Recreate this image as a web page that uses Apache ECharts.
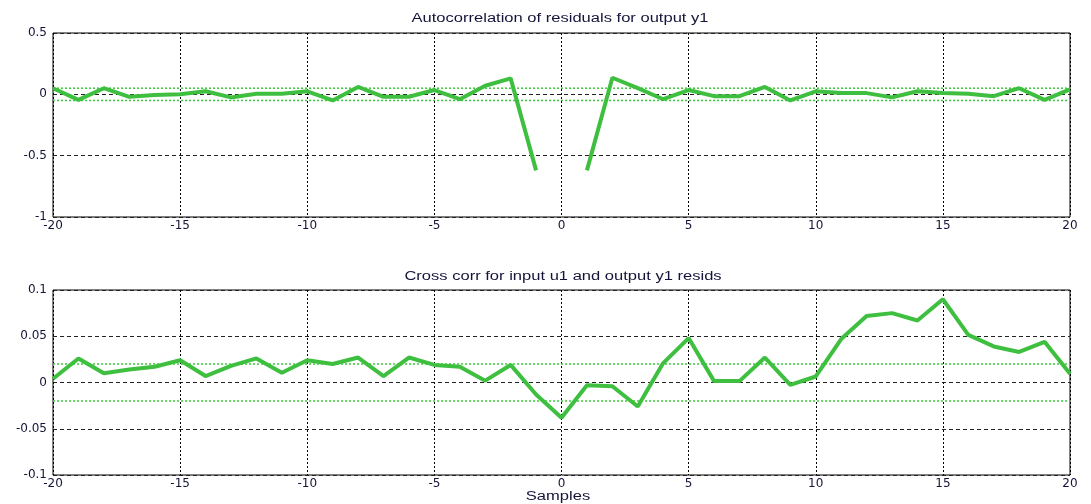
<!DOCTYPE html>
<html><head><meta charset="utf-8">
<script src="https://cdn.jsdelivr.net/npm/echarts@6/dist/echarts.min.js"></script>
<style>html,body{margin:0;padding:0;background:#fff}#c{width:1091px;height:504px}</style>
</head><body><div id="c"></div>
<script>
const lags = [];
for (let k = -20; k <= 20; k++) lags.push(k);
const autoCorr = [0.05,-0.045,0.05,-0.02,-0.005,0.0,0.025,-0.025,0.005,0.005,0.025,-0.05,0.06,-0.02,-0.02,0.035,-0.04,0.07,0.13,-0.62,null,-0.62,0.135,0.05,-0.04,0.035,-0.015,-0.015,0.06,-0.05,0.025,0.01,0.01,-0.025,0.025,0.01,0.005,-0.015,0.05,-0.045,0.04];
const crossCorr = [0.004,0.026,0.01,0.014,0.017,0.024,0.007,0.018,0.026,0.0105,0.024,0.02,0.027,0.007,0.027,0.019,0.017,0.002,0.019,-0.013,-0.038,-0.003,-0.004,-0.026,0.021,0.048,0.0015,0.0015,0.027,-0.0025,0.0065,0.047,0.072,0.075,0.067,0.09,0.0515,0.039,0.033,0.044,0.0094];
const autoConf = [0.05, -0.05];
const crossConf = [0.02, -0.02];
const xTicks = [-20,-15,-10,-5,0,5,10,15,20];
const autoTicks = [-1,-0.5,0,0.5];
const crossTicks = [-0.1,-0.05,0,0.05,0.1];
const titles = ['Autocorrelation of residuals for output y1','Cross corr for input u1 and output y1 resids'];
const xName = 'Samples';

const font = '"Liberation Sans", Arial, sans-serif';
const tickFont = '"DejaVu Sans", sans-serif';
const green = '#3fbf3f';
const confGreen = '#3acb3a';
const textColor = '#14143a';

// horizontal stretch for titles to mimic the spaced-out reference text
const mctx = document.createElement('canvas').getContext('2d');
mctx.font = '12.5px "Liberation Sans"';
const titleScale = 297 / mctx.measureText(titles[0]).width;

function pair(a){ return lags.map((k,i)=>[k,a[i]]); }
function confLine(c){ return [[lags[0],c],[lags[lags.length-1],c]]; }

const xAxisBase = (gi) => ({
  type:'value', gridIndex:gi, min:xTicks[0], max:xTicks[xTicks.length-1], interval:xTicks[1]-xTicks[0],
  axisLine:{show:false}, axisTick:{show:false},
  axisLabel:{color:textColor, fontFamily:tickFont, fontSize:12, margin:3},
  splitLine:{show:true, lineStyle:{color:'#000', type:[2,2], width:1}}
});
const yAxisBase = (gi, ticks) => ({
  type:'value', gridIndex:gi, min:ticks[0], max:ticks[ticks.length-1], interval:ticks[1]-ticks[0],
  axisLine:{show:false}, axisTick:{show:false},
  axisLabel:{color:textColor, fontFamily:tickFont, fontSize:12, margin:6,
    formatter:(v)=>String(Math.round(v*1000)/1000)},
  splitLine:{show:true, lineStyle:{color:'#222', type:[4,3], width:1}}
});

const series = [];
function addPlot(gi, data, conf){
  series.push({type:'line', xAxisIndex:gi, yAxisIndex:gi, data:pair(data), showSymbol:false,
    connectNulls:false, lineStyle:{color:green, width:4}, itemStyle:{color:green}, z:5, silent:true});
  conf.forEach(c=>series.push({type:'line', xAxisIndex:gi, yAxisIndex:gi, data:confLine(c), showSymbol:false,
    lineStyle:{color:confGreen, width:1.5, type:[2,2]}, z:4, silent:true}));
}
addPlot(0, autoCorr, autoConf);
addPlot(1, crossCorr, crossConf);

function label(text, x, y){
  return {type:'text', x:x, y:y, scaleX:titleScale, scaleY:1, z:10,
    style:{text:text, fill:textColor, font:'12.5px "Liberation Sans", Arial, sans-serif', align:'center', verticalAlign:'middle'}};
}

const chart = echarts.init(document.getElementById('c'), null, {renderer:'canvas'});
chart.setOption({
  animation:false,
  graphic:[label(titles[0], 560, 19), label(titles[1], 563, 277), label(xName, 558, 497)],
  grid:[
    {left:53, right:21, top:33, height:184, show:true, borderColor:'#000', borderWidth:1, backgroundColor:'#fff'},
    {left:53, right:21, top:290, height:185, show:true, borderColor:'#000', borderWidth:1, backgroundColor:'#fff'}
  ],
  xAxis:[xAxisBase(0), xAxisBase(1)],
  yAxis:[yAxisBase(0, autoTicks), yAxisBase(1, crossTicks)],
  series:series
});
</script>
</body></html>
